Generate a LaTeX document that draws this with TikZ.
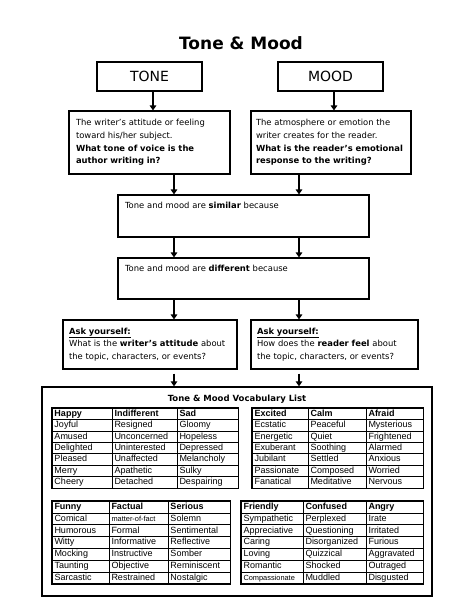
\documentclass[tikz,border=0pt]{standalone}
\usepackage{fontspec}
\setmainfont{DejaVu Sans}
\newfontfamily\tabfont{Liberation Sans}
\usetikzlibrary{arrows.meta,matrix}

\begin{document}
\begin{tikzpicture}[x=1pt, y=-1pt,
	box/.style = {draw, line width=1.1pt, align=left, inner xsep=7pt, font=\fontsize{8.4}{12.6}\selectfont},
	head/.style = {draw, line width=1.1pt, minimum width=105pt, minimum height=29pt, font=\fontsize{14}{16}\selectfont},
	arr/.style = {line width=1.6pt, -{Triangle[length=5pt,width=6.5pt]}},
	vocab/.style = {matrix of nodes, inner sep=0pt, column sep=-0.8pt, row sep=-0.8pt,
		nodes={draw, line width=0.8pt, align=left, inner xsep=2.5pt, inner ysep=1.1pt, text height=7pt, text depth=2.2pt, font=\tabfont\fontsize{9}{10}\selectfont},
		row 1/.style={nodes={font=\tabfont\bfseries\fontsize{9}{10}\selectfont}}},
	tabframe/.style = {draw, line width=1.3pt},
	small/.style = {font=\tabfont\fontsize{7.4}{8}\selectfont}]
	\useasboundingbox (0,0) rectangle (474,613);

	\node[font=\bfseries\fontsize{17}{20}\selectfont] (title) at (241,43) {Tone \& Mood};

	\node[head] (tone) at (149.5,76.5) {TONE};
	\node[head] (mood) at (330.5,76.5) {MOOD};

	\node[box, text width=147pt, minimum height=63pt] (tdesc) at (149.5,142.5) {The writer’s attitude or feeling\\toward his/her subject.\\\textbf{What tone of voice is the}\\\textbf{author writing in?}};
	\node[box, inner xsep=5pt, text width=150pt, minimum height=63pt] (mdesc) at (331,142.5) {The atmosphere or emotion the\\writer creates for the reader.\\\textbf{What is the reader’s emotional}\\\textbf{response to the writing?}};

	\node[box, text width=237pt, inner ysep=6pt, text height=7pt, text depth=23pt] (similar) at (243.5,216) {Tone and mood are \textbf{similar} because};
	\node[box, text width=237pt, inner ysep=6pt, text height=7pt, text depth=22pt] (different) at (243.5,278.5) {Tone and mood are \textbf{different} because};

	\node[box, inner xsep=6pt, text width=162pt, minimum height=49pt] (askt) at (150,344.5) {\underline{\textbf{Ask yourself:}}\\What is the \textbf{writer’s attitude} about\\the topic, characters, or events?};
	\node[box, inner xsep=6pt, text width=155pt, minimum height=49pt] (askm) at (334.5,344.5) {\underline{\textbf{Ask yourself:}}\\How does the \textbf{reader feel} about\\the topic, characters, or events?};

	\node[draw, line width=1.3pt, minimum width=390pt, minimum height=209pt] (vocab) at (237,491.5) {};
	\node[font=\bfseries\fontsize{8.5}{10}\selectfont] (vtitle) at (237,399) {Tone \& Mood Vocabulary List};

	% arrows
	\coordinate (tx) at (153,0);
	\coordinate (mx) at (334,0);
	\coordinate (lx) at (174,0);
	\coordinate (rx) at (299,0);

	\draw[arr] (tone.south -| tx) -- (tdesc.north -| tx);
	\draw[arr] (mood.south -| mx) -- (mdesc.north -| mx);

	\draw[arr] (tdesc.south -| lx) -- (similar.north -| lx);
	\draw[arr] (mdesc.south -| rx) -- (similar.north -| rx);

	\draw[arr] (similar.south -| lx) -- (different.north -| lx);
	\draw[arr] (similar.south -| rx) -- (different.north -| rx);

	\draw[arr] (different.south -| lx) -- (askt.north -| lx);
	\draw[arr] (different.south -| rx) -- (askm.north -| rx);

	\draw[arr] ([yshift=-4pt]askt.south -| lx) -- (vocab.north -| lx);
	\draw[arr] ([yshift=-4pt]askm.south -| rx) -- (vocab.north -| rx);

	% tables
	\matrix (happy) at (145,448) [vocab, column 1/.style={nodes={text width=55pt}}, column 2/.style={nodes={text width=60pt}}, column 3/.style={nodes={text width=56pt}}] {
		Happy & Indifferent & Sad \\
		Joyful & Resigned & Gloomy \\
		Amused & Unconcerned & Hopeless \\
		Delighted & Uninterested & Depressed \\
		Pleased & Unaffected & Melancholy \\
		Merry & Apathetic & Sulky \\
		Cheery & Detached & Despairing \\
	};
	\draw[tabframe] (happy.north west) rectangle (happy.south east);

	\matrix (excited) at (337.5,448) [vocab, column 1/.style={nodes={text width=51pt}}, column 2/.style={nodes={text width=53pt}}, column 3/.style={nodes={text width=52pt}}] {
		Excited & Calm & Afraid \\
		Ecstatic & Peaceful & Mysterious \\
		Energetic & Quiet & Frightened \\
		Exuberant & Soothing & Alarmed \\
		Jubilant & Settled & Anxious \\
		Passionate & Composed & Worried \\
		Fanatical & Meditative & Nervous \\
	};
	\draw[tabframe] (excited.north west) rectangle (excited.south east);

	\matrix (funny) at (141,542.5) [vocab, nodes={inner ysep=1.3pt}, column 1/.style={nodes={text width=52pt}}, column 2/.style={nodes={text width=54pt}}, column 3/.style={nodes={text width=57pt}}] {
		Funny & Factual & Serious \\
		Comical & |[small]| matter-of-fact & Solemn \\
		Humorous & Formal & Sentimental \\
		Witty & Informative & Reflective \\
		Mocking & Instructive & Somber \\
		Taunting & Objective & Reminiscent \\
		Sarcastic & Restrained & Nostalgic \\
	};
	\draw[tabframe] (funny.north west) rectangle (funny.south east);

	\matrix (friendly) at (332,542.5) [vocab, nodes={inner ysep=1.3pt}, column 1/.style={nodes={text width=57pt}}, column 2/.style={nodes={text width=58pt}}, column 3/.style={nodes={text width=52pt}}] {
		Friendly & Confused & Angry \\
		Sympathetic & Perplexed & Irate \\
		Appreciative & Questioning & Irritated \\
		Caring & Disorganized & Furious \\
		Loving & Quizzical & Aggravated \\
		Romantic & Shocked & Outraged \\
		|[small]| Compassionate & Muddled & Disgusted \\
	};
	\draw[tabframe] (friendly.north west) rectangle (friendly.south east);

\end{tikzpicture}
\end{document}
